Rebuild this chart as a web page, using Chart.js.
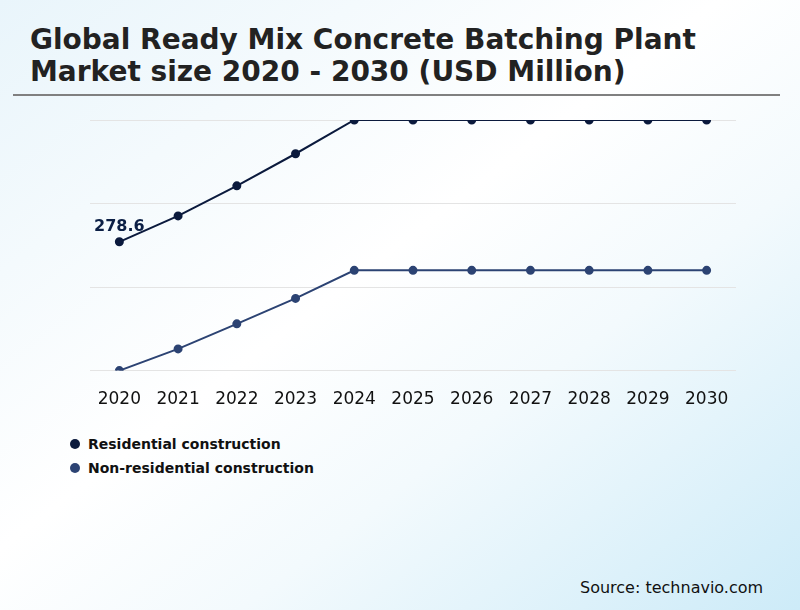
<!DOCTYPE html>
<html>
<head>
<meta charset="utf-8">
<script src="https://cdn.jsdelivr.net/npm/chart.js@4"></script>
<style>
  html, body { margin: 0; padding: 0; }
  body {
    width: 800px; height: 610px; position: relative; overflow: hidden;
    background: linear-gradient(to bottom right, #e9f5fb 0%, #ffffff 45%, #f3fafd 65%, #cdebf8 100%);
    font-family: "DejaVu Sans", sans-serif;
  }
  #title {
    position: absolute; left: 30px; top: 24px;
    font-weight: bold; font-size: 28px; line-height: 32px; color: #222;
  }
  #rule { position: absolute; left: 13px; top: 94px; width: 767px; height: 2px; background: #808080; }
  #wrap { position: absolute; left: 0; top: 100px; width: 800px; height: 332px; }
  #legend { position: absolute; left: 70px; top: 432px; }
  .item { display: flex; align-items: center; height: 24px; font-weight: bold; font-size: 14px; color: #111; }
  .dot { width: 10px; height: 10px; border-radius: 50%; margin-right: 8px; }
  #source { position: absolute; left: 580px; top: 578px; font-size: 16px; color: #111; }
</style>
</head>
<body>
<div id="title">Global Ready Mix Concrete Batching Plant<br>Market size 2020 - 2030 (USD Million)</div>
<div id="rule"></div>
<div id="wrap"><canvas id="myChart"></canvas></div>
<div id="legend"></div>
<div id="source">Source: technavio.com</div>
<script>
const ctx = document.getElementById('myChart');
var anni = ['2020', '2021', '2022', '2023', '2024', '2025', '2026', '2027', '2028', '2029', '2030'];
var residenziale = [278.6, 294.1, 312.1, 331.3, 351.5, 351.5, 351.5, 351.5, 351.5, 351.5, 351.5];
var nonResidenziale = [201.5, 214.5, 229.5, 244.7, 261.5, 261.5, 261.5, 261.5, 261.5, 261.5, 261.5];
var nomi = ['Residential construction', 'Non-residential construction'];
var colori = ['#0b1a3d', '#2c4373'];

// etichetta sul primo punto
const etichetta = {
  id: 'etichetta',
  afterDatasetsDraw(chart) {
    const p = chart.getDatasetMeta(0).data[0];
    const c = chart.ctx;
    c.save();
    c.font = 'bold 16px "DejaVu Sans"';
    c.fillStyle = '#0b1f45';
    c.textAlign = 'center';
    c.textBaseline = 'middle';
    c.fillText(residenziale[0].toFixed(1), p.x, p.y - 15);
    c.restore();
  }
};

const grafico = new Chart(ctx, {
  type: 'line',
  data: {
    labels: anni,
    datasets: [
      {
        label: nomi[0],
        data: residenziale,
        borderWidth: 2,
        borderColor: colori[0],
        backgroundColor: colori[0],
        pointRadius: 3.5,
        pointHoverRadius: 3.5
      },
      {
        label: nomi[1],
        data: nonResidenziale,
        borderWidth: 2,
        borderColor: colori[1],
        backgroundColor: colori[1],
        pointRadius: 3.5,
        pointHoverRadius: 3.5
      }
    ]
  },
  options: {
    responsive: true,
    maintainAspectRatio: false,
    animation: false,
    layout: { padding: { left: 90, right: 64, top: 20, bottom: 3 } },
    plugins: {
      legend: { display: false },
      tooltip: { enabled: false }
    },
    scales: {
      x: {
        offset: true,
        grid: { display: false, drawTicks: false },
        border: { display: false },
        ticks: { padding: 19, color: '#111', font: { size: 17, family: 'DejaVu Sans' } }
      },
      y: {
        min: 201.5,
        max: 351.5,
        grid: { color: '#e4e4e4', drawTicks: false },
        border: { display: false },
        ticks: { display: false, count: 4 }
      }
    }
  },
  plugins: [etichetta]
});

// legenda html dai dataset
var leg = document.getElementById('legend');
grafico.data.datasets.forEach(function (d) {
  var r = document.createElement('div');
  r.className = 'item';
  r.innerHTML = '<span class="dot" style="background:' + d.borderColor + '"></span>' + d.label;
  leg.appendChild(r);
});
</script>
</body>
</html>
